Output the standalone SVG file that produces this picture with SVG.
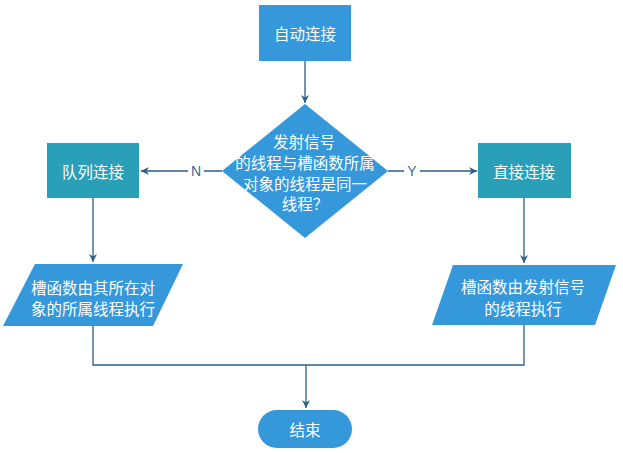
<svg xmlns="http://www.w3.org/2000/svg" width="623" height="453" viewBox="0 0 623 453">
<style>
.blue{fill:#3498db}
.teal{fill:#2aa0b8}
.t{fill:#ffffff;font-family:"Noto Sans CJK SC","Liberation Sans",sans-serif;font-size:15.5px;text-anchor:middle;dominant-baseline:central}
.ln{fill:none;stroke:#2e5d88;stroke-width:1.3}
.lbl{fill:#3a6a94;font-family:"Liberation Sans",Arial,sans-serif;font-size:14px;text-anchor:middle;dominant-baseline:central}
</style>
<defs>
<marker id="arr" markerWidth="10" markerHeight="10" refX="9" refY="5" orient="auto" markerUnits="userSpaceOnUse">
<path d="M1,1 L9,5 L1,9 L3.5,5 Z" fill="#2e5d88"/>
</marker>
</defs>
<rect width="623" height="453" fill="#ffffff"/>
<g id="connectors">
<path class="ln" d="M305,61 L305,103" marker-end="url(#arr)"/>
<path class="ln" d="M222,171 L141,171" marker-end="url(#arr)"/>
<rect x="188" y="162" width="16" height="18" fill="#ffffff"/>
<text class="lbl" x="196" y="171">N</text>
<path class="ln" d="M388,171 L477,171" marker-end="url(#arr)"/>
<rect x="404" y="162" width="16" height="18" fill="#ffffff"/>
<text class="lbl" x="412" y="171">Y</text>
<path class="ln" d="M93,198 L93,262" marker-end="url(#arr)"/>
<path class="ln" d="M524,198 L524,263" marker-end="url(#arr)"/>
<path class="ln" d="M93,326 L93,365 L524,365 L524,325"/>
<path class="ln" d="M306,365 L306,408" marker-end="url(#arr)"/>
</g>
<g id="start">
<rect class="blue" x="259" y="5" width="92" height="56"/>
<text class="t" x="305" y="33">自动连接</text>
</g>
<g id="decision">
<polygon class="blue" points="305,104 388,171 305,238 222,171"/>
<text class="t" x="304" y="141">发射信号</text>
<text class="t" x="305" y="162">的线程与槽函数所属</text>
<text class="t" x="305" y="183">对象的线程是同一</text>
<text class="t" x="305" y="203">线程？</text>
</g>
<g id="queued">
<rect class="teal" x="47" y="143" width="92" height="55"/>
<text class="t" x="93" y="171">队列连接</text>
</g>
<g id="direct">
<rect class="teal" x="478" y="143" width="93" height="55"/>
<text class="t" x="524" y="171">直接连接</text>
</g>
<g id="queued-exec">
<polygon class="blue" points="35,264 183,264 153,326 3,326"/>
<text class="t" x="93" y="287">槽函数由其所在对</text>
<text class="t" x="93" y="308">象的所属线程执行</text>
</g>
<g id="direct-exec">
<polygon class="blue" points="453,265 616,265 595,325 432,325"/>
<text class="t" x="523" y="286">槽函数由发射信号</text>
<text class="t" x="523" y="308">的线程执行</text>
</g>
<g id="end">
<rect class="blue" x="258" y="410" width="94" height="38" rx="19" ry="19"/>
<text class="t" x="305" y="429">结束</text>
</g>
</svg>
